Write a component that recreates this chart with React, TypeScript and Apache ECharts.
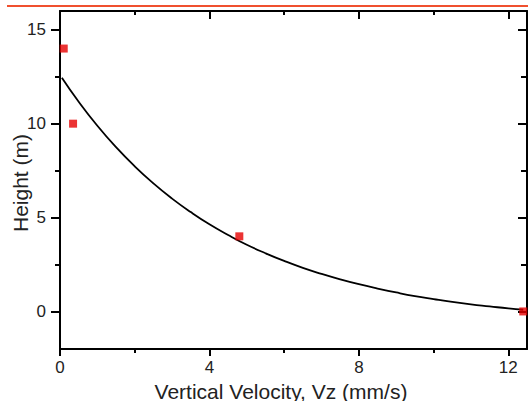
import React, { useEffect, useRef } from "react";
import * as echarts from "echarts";

const measuredVelocity = [0.1, 0.35, 4.8, 12.4];
const measuredHeight = [14, 10, 4, 0];

const fitVelocity = [0.05, 0.5, 1, 1.5, 2, 2.5, 3, 3.5, 4, 4.5, 5, 5.5, 6, 6.5, 7, 7.5, 8, 8.5, 9, 9.5, 10, 10.5, 11, 11.5, 12, 12.4];
const fitHeight = [12.45, 11.17, 9.89, 8.75, 7.73, 6.82, 6.01, 5.29, 4.64, 4.07, 3.55, 3.1, 2.69, 2.32, 2.0, 1.71, 1.45, 1.22, 1.01, 0.82, 0.66, 0.51, 0.38, 0.27, 0.16, 0.09];

const xMajorTicks = [0, 4, 8, 12];
const xMinorTicks = [2, 6, 10];
const yMajorTicks = [0, 5, 10, 15];
const yMinorTicks = [2.5, 7.5, 12.5];

const xTitle = "Vertical Velocity, Vz (mm/s)";
const yTitle = "Height (m)";

const FONT = "'Liberation Sans', Arial, sans-serif";

export default function App() {
  const ref = useRef<HTMLDivElement>(null);
  useEffect(() => {
    if (!ref.current) return;
    const chart = echarts.init(ref.current, undefined, { renderer: "svg" });
    const xBase = { type: "value", min: 0, max: 12.5, splitLine: { show: false } };
    const yBase = { type: "value", min: -2, max: 16, splitLine: { show: false } };
    const line = { show: true, onZero: false, lineStyle: { color: "#000", width: 2 } };
    const noLine = { show: false, onZero: false };
    const noLabel = { show: false };
    const option: any = {
      animation: false,
      backgroundColor: "#fff",
      textStyle: { fontFamily: FONT },
      grid: { left: 60, right: 1, top: 11, bottom: 52, containLabel: false },
      xAxis: [
        {
          ...xBase,
          position: "bottom",
          axisLine: line,
          axisTick: { show: true, customValues: xMajorTicks, length: 7, inside: false, lineStyle: { color: "#000", width: 2 } },
          axisLabel: { show: true, customValues: xMajorTicks, margin: 10, fontSize: 17, color: "#222", fontFamily: FONT },
        },
        {
          ...xBase,
          position: "bottom",
          axisLine: noLine,
          axisTick: { show: true, customValues: xMinorTicks, length: 4, inside: false, lineStyle: { color: "#000", width: 2 } },
          axisLabel: noLabel,
        },
        {
          ...xBase,
          position: "top",
          axisLine: line,
          axisTick: { show: true, customValues: xMajorTicks, length: 8, inside: true, lineStyle: { color: "#000", width: 2 } },
          axisLabel: noLabel,
        },
        {
          ...xBase,
          position: "top",
          axisLine: noLine,
          axisTick: { show: true, customValues: xMinorTicks, length: 4, inside: true, lineStyle: { color: "#000", width: 2 } },
          axisLabel: noLabel,
        },
      ],
      yAxis: [
        {
          ...yBase,
          position: "left",
          axisLine: line,
          axisTick: { show: true, customValues: yMajorTicks, length: 9, inside: false, lineStyle: { color: "#000", width: 2 } },
          axisLabel: { show: true, customValues: yMajorTicks, margin: 14, fontSize: 17, color: "#222", fontFamily: FONT },
        },
        {
          ...yBase,
          position: "left",
          axisLine: noLine,
          axisTick: { show: true, customValues: yMinorTicks, length: 5, inside: false, lineStyle: { color: "#000", width: 2 } },
          axisLabel: noLabel,
        },
        {
          ...yBase,
          position: "right",
          axisLine: line,
          axisTick: { show: true, customValues: yMajorTicks, length: 9, inside: true, lineStyle: { color: "#000", width: 2 } },
          axisLabel: noLabel,
        },
        {
          ...yBase,
          position: "right",
          axisLine: noLine,
          axisTick: { show: true, customValues: yMinorTicks, length: 6, inside: true, lineStyle: { color: "#000", width: 2 } },
          axisLabel: noLabel,
        },
      ],
      series: [
        {
          type: "line",
          xAxisIndex: 0,
          yAxisIndex: 0,
          data: fitVelocity.map((v, i) => [v, fitHeight[i]]),
          smooth: true,
          showSymbol: false,
          lineStyle: { color: "#000", width: 1.8 },
          z: 2,
        },
        {
          type: "scatter",
          xAxisIndex: 0,
          yAxisIndex: 0,
          data: measuredVelocity.map((v, i) => [v, measuredHeight[i]]),
          symbol: "rect",
          symbolSize: 8,
          itemStyle: { color: "#e60000" },
          clip: false,
          z: 3,
        },
      ],
      graphic: [
        {
          type: "line",
          shape: { x1: 7, y1: 6, x2: 528, y2: 6 },
          style: { stroke: "#f0502f", lineWidth: 2 },
        },
        {
          type: "text",
          x: 281,
          y: 391,
          style: { text: xTitle, font: `21px ${FONT}`, fill: "#222", align: "center", verticalAlign: "middle" },
        },
        {
          type: "text",
          x: 20,
          y: 183,
          rotation: Math.PI / 2,
          style: { text: yTitle, font: `21px ${FONT}`, fill: "#222", align: "center", verticalAlign: "middle" },
        },
      ],
    };
    chart.setOption(option);
    return () => chart.dispose();
  }, []);
  return (
    <div
      ref={ref}
      style={{ position: "fixed", left: 0, top: 0, width: 528, height: 401, background: "#fff" }}
    />
  );
}
